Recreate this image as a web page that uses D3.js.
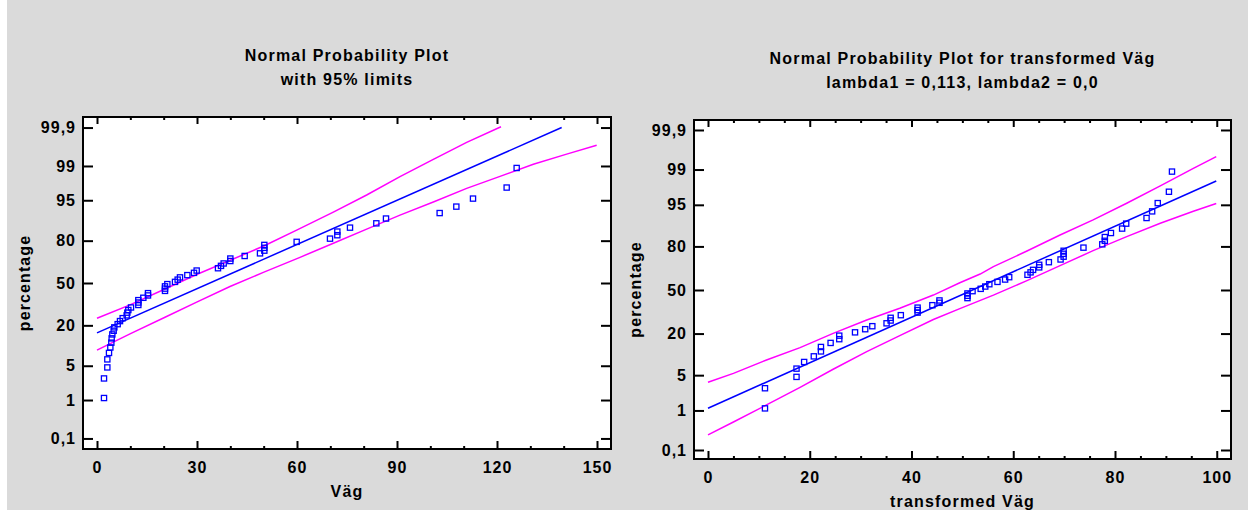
<!DOCTYPE html>
<html>
<head>
<meta charset="utf-8">
<script src="https://cdn.jsdelivr.net/npm/d3@7"></script>
<style>
  body { margin: 0; background: #fff; }
  text { font-family: "Liberation Sans", Arial, sans-serif; font-weight: bold; font-size: 16px; fill: #000; }
</style>
</head>
<body>
<div id="chart"></div>
<script>
// sorted sample values (Väg) and their transformed counterparts
var vag = [2.1, 2.1, 3.1, 3.1, 3.6, 4.0, 4.3, 4.4, 4.6, 5.0, 5.2, 6.2, 6.9, 7.7, 8.9, 9.1, 9.4, 10.2,
  12.4, 12.4, 12.4, 13.9, 15.3, 15.3, 20.4, 20.4, 20.4, 21.1, 23.4, 24.2, 24.9, 27.1, 29.1, 29.9,
  36.3, 37.2, 38.0, 40.0, 40.0, 44.3, 48.9, 50.2, 50.2, 50.2, 59.9, 69.9, 72.1, 72.1, 75.9, 83.8,
  86.7, 102.8, 107.8, 112.8, 122.9, 125.9];
var transVag = [11.2, 11.2, 17.4, 17.4, 18.9, 20.8, 22.2, 22.2, 24.1, 25.8, 25.8, 28.9, 30.9, 32.3,
  35.1, 35.9, 35.9, 37.9, 41.2, 41.2, 41.2, 44.1, 45.5, 45.5, 51.0, 51.0, 51.0, 52.0, 53.6, 54.5,
  55.3, 56.9, 58.4, 59.2, 62.8, 63.4, 63.9, 65.1, 65.1, 67.0, 69.3, 69.9, 69.9, 69.9, 73.8, 77.5,
  78.0, 78.0, 79.2, 81.4, 82.2, 86.2, 87.3, 88.4, 90.6, 91.2];

// fitted line and 95% limits, left plot (x value, percentage)
var fitVagX = [0, 139.4];
var fitVagPct = [16.1, 99.9];
var upperVagX = [0, 9.9, 20.4, 29.9, 50.2, 59.9, 70.9, 80.9, 90.9, 100.9, 110.9, 121.2];
var upperVagPct = [24.2, 33.18, 45.22, 56.75, 77.03, 85.31, 92.07, 95.99, 98.28, 99.30, 99.74, 99.905];
var lowerVagX = [0, 9.9, 20.4, 29.9, 39.9, 49.9, 60.9, 70.9, 80.9, 90.9, 100.9, 110.9, 120.9, 130.9, 140.9, 149.9];
var lowerVagPct = [9.08, 15.62, 24.83, 35.2, 47.21, 58.32, 69.5, 78.52, 85.77, 91.15, 94.63, 97.0, 98.3, 99.09, 99.48, 99.69];

// fitted line and 95% limits, right plot
var fitTransX = [0, 99.9];
var fitTransPct = [1.12, 98.24];
var upperTransX = [0, 5, 11.5, 18.1, 24.6, 31.2, 37.7, 44.3, 49.5, 53.5, 56.1, 62.7, 69.2, 75.7, 82.3, 88.9, 95.4, 99.9];
var upperTransPct = [3.73, 5.37, 8.82, 13.3, 20.1, 28.1, 36.2, 46.1, 55.6, 62.1, 67.4, 77.4, 85.6, 91.2, 95.3, 97.78, 99.06, 99.50];
var lowerTransX = [0, 5, 11.5, 18.1, 24.6, 31.2, 37.7, 44.3, 49.5, 56.1, 62.7, 69.2, 75.7, 82.3, 88.9, 95.4, 99.9];
var lowerTransPct = [0.256, 0.539, 1.32, 3.01, 6.30, 11.70, 18.94, 28.43, 35.94, 46.02, 57.14, 68.08, 77.64, 84.85, 90.15, 93.57, 95.25];

// tick values and labels
var pctTicks = [0.1, 1, 5, 20, 50, 80, 95, 99, 99.9];
var pctLabels = ["0,1", "1", "5", "20", "50", "80", "95", "99", "99,9"];
var vagTicks = [0, 30, 60, 90, 120, 150];
var vagMinor = [10, 20, 40, 50, 70, 80, 100, 110, 130, 140];
var transTicks = [0, 20, 40, 60, 80, 100];
var transMinor = [5, 10, 15, 25, 30, 35, 45, 50, 55, 65, 70, 75, 85, 90, 95];

// inverse normal cdf (Acklam)
function probit(p) {
  var a = [-3.969683028665376e+01, 2.209460984245205e+02, -2.759285104469687e+02, 1.383577518672690e+02, -3.066479806614716e+01, 2.506628277459239e+00];
  var b = [-5.447609879822406e+01, 1.615858368580409e+02, -1.556989798598866e+02, 6.680131188771972e+01, -1.328068155288572e+01];
  var c = [-7.784894002430293e-03, -3.223964580411365e-01, -2.400758277161838e+00, -2.549732539343734e+00, 4.374664141464968e+00, 2.938163982698783e+00];
  var d = [7.784695709041462e-03, 3.224671290700398e-01, 2.445134137142996e+00, 3.754408661907416e+00];
  var pl = 0.02425, q, r;
  if (p < pl) {
    q = Math.sqrt(-2 * Math.log(p));
    return (((((c[0]*q+c[1])*q+c[2])*q+c[3])*q+c[4])*q+c[5]) / ((((d[0]*q+d[1])*q+d[2])*q+d[3])*q+1);
  }
  if (p > 1 - pl) {
    q = Math.sqrt(-2 * Math.log(1 - p));
    return -(((((c[0]*q+c[1])*q+c[2])*q+c[3])*q+c[4])*q+c[5]) / ((((d[0]*q+d[1])*q+d[2])*q+d[3])*q+1);
  }
  q = p - 0.5; r = q * q;
  return (((((a[0]*r+a[1])*r+a[2])*r+a[3])*r+a[4])*r+a[5])*q / (((((b[0]*r+b[1])*r+b[2])*r+b[3])*r+b[4])*r+1);
}

var svgWidth = 1248, svgHeight = 510;

var svg = d3.select("#chart")
  .append("svg")
  .attr("width", svgWidth)
  .attr("height", svgHeight);

// grey pane
svg.append("rect")
  .attr("x", 7).attr("y", 0)
  .attr("width", svgWidth - 7).attr("height", svgHeight)
  .attr("fill", "#dadada");

function zip(xs, ps) { return xs.map(function(v, i) { return [v, ps[i]]; }); }

function drawPanel(p) {
  var x = d3.scaleLinear().domain(p.xDomain).range([p.left, p.right]);
  var y = d3.scaleLinear().domain(p.zDomain).range([p.bottom, p.top]);
  var yPct = function(v) { return y(probit(v / 100)); };
  var zTicks = pctTicks.map(function(v) { return probit(v / 100); });
  var g = svg.append("g");

  g.append("rect")
    .attr("x", p.left).attr("y", p.top)
    .attr("width", p.right - p.left).attr("height", p.bottom - p.top)
    .attr("fill", "#fff");

  // axes, ticks pointing inward
  g.append("g").attr("transform", `translate(${p.left},0)`)
    .call(d3.axisLeft(y).tickValues(zTicks).tickFormat(function(d, i) { return pctLabels[i]; })
      .tickSize(-10).tickPadding(7));
  g.append("g").attr("transform", `translate(${p.right},0)`)
    .call(d3.axisRight(y).tickValues(zTicks).tickFormat("").tickSize(-10));
  g.append("g").attr("transform", `translate(0,${p.bottom})`)
    .call(d3.axisBottom(x).tickValues(p.xTicks).tickSize(-8).tickPadding(12.5));
  g.append("g").attr("transform", `translate(0,${p.bottom})`)
    .call(d3.axisBottom(x).tickValues(p.xMinor).tickFormat("").tickSize(-3));
  g.append("g").attr("transform", `translate(0,${p.top})`)
    .call(d3.axisTop(x).tickValues(p.xTicks).tickFormat("").tickSize(-7));
  g.append("g").attr("transform", `translate(0,${p.top})`)
    .call(d3.axisTop(x).tickValues(p.xMinor).tickFormat("").tickSize(-3));

  g.selectAll(".domain").remove();
  g.selectAll(".tick line").attr("stroke", "#000").attr("stroke-width", 2);
  g.selectAll(".tick text").style("letter-spacing", "1px");

  var line = d3.line()
    .x(function(d) { return x(d[0]); })
    .y(function(d) { return yPct(d[1]); });

  g.append("path").datum(zip(p.upperX, p.upperPct))
    .attr("d", line).attr("fill", "none").attr("stroke", "#ff00ff").attr("stroke-width", 1.5);
  g.append("path").datum(zip(p.lowerX, p.lowerPct))
    .attr("d", line).attr("fill", "none").attr("stroke", "#ff00ff").attr("stroke-width", 1.5);
  g.append("path").datum(zip(p.fitX, p.fitPct))
    .attr("d", line).attr("fill", "none").attr("stroke", "#0000ff").attr("stroke-width", 1.5);

  // plotting positions (i - 3/8) / (n + 1/4)
  var n = p.values.length;
  var s = 5.2;
  g.selectAll("rect.pt")
    .data(p.values)
    .enter()
    .append("rect")
    .attr("class", "pt")
    .attr("x", function(d) { return x(d) - s / 2; })
    .attr("y", function(d, i) { return yPct(100 * (i + 1 - 0.375) / (n + 0.25)) - s / 2; })
    .attr("width", s).attr("height", s)
    .attr("fill", "none").attr("stroke", "#0000ff").attr("stroke-width", 1.3);

  // frame
  g.append("rect")
    .attr("x", p.left).attr("y", p.top)
    .attr("width", p.right - p.left).attr("height", p.bottom - p.top)
    .attr("fill", "none").attr("stroke", "#000").attr("stroke-width", 2);

  var cx = (p.left + p.right) / 2;
  p.title.forEach(function(t, i) {
    g.append("text")
      .attr("x", cx).attr("y", p.titleY + i * 24)
      .attr("text-anchor", "middle")
      .style("letter-spacing", "1.2px")
      .text(t);
  });

  g.append("text")
    .attr("x", cx).attr("y", p.bottom + 48)
    .attr("text-anchor", "middle")
    .style("letter-spacing", "1.2px")
    .text(p.xLabel);

  g.append("text")
    .attr("transform", `translate(${p.left - 53},${(p.top + p.bottom) / 2}) rotate(-90)`)
    .attr("text-anchor", "middle")
    .style("letter-spacing", "1.1px")
    .text("percentage");
}

drawPanel({
  left: 83, right: 611, top: 117, bottom: 449,
  xDomain: [-4.2, 154.2], zDomain: [-3.3, 3.3],
  xTicks: vagTicks, xMinor: vagMinor,
  values: vag,
  fitX: fitVagX, fitPct: fitVagPct,
  upperX: upperVagX, upperPct: upperVagPct,
  lowerX: lowerVagX, lowerPct: lowerVagPct,
  title: ["Normal Probability Plot", "with 95% limits"], titleY: 61,
  xLabel: "Väg"
});

drawPanel({
  left: 694, right: 1231, top: 120, bottom: 459,
  xDomain: [-2.75, 102.8], zDomain: [-3.264, 3.283],
  xTicks: transTicks, xMinor: transMinor,
  values: transVag,
  fitX: fitTransX, fitPct: fitTransPct,
  upperX: upperTransX, upperPct: upperTransPct,
  lowerX: lowerTransX, lowerPct: lowerTransPct,
  title: ["Normal Probability Plot for transformed Väg", "lambda1 = 0,113, lambda2 = 0,0"], titleY: 64,
  xLabel: "transformed Väg"
});
</script>
</body>
</html>
